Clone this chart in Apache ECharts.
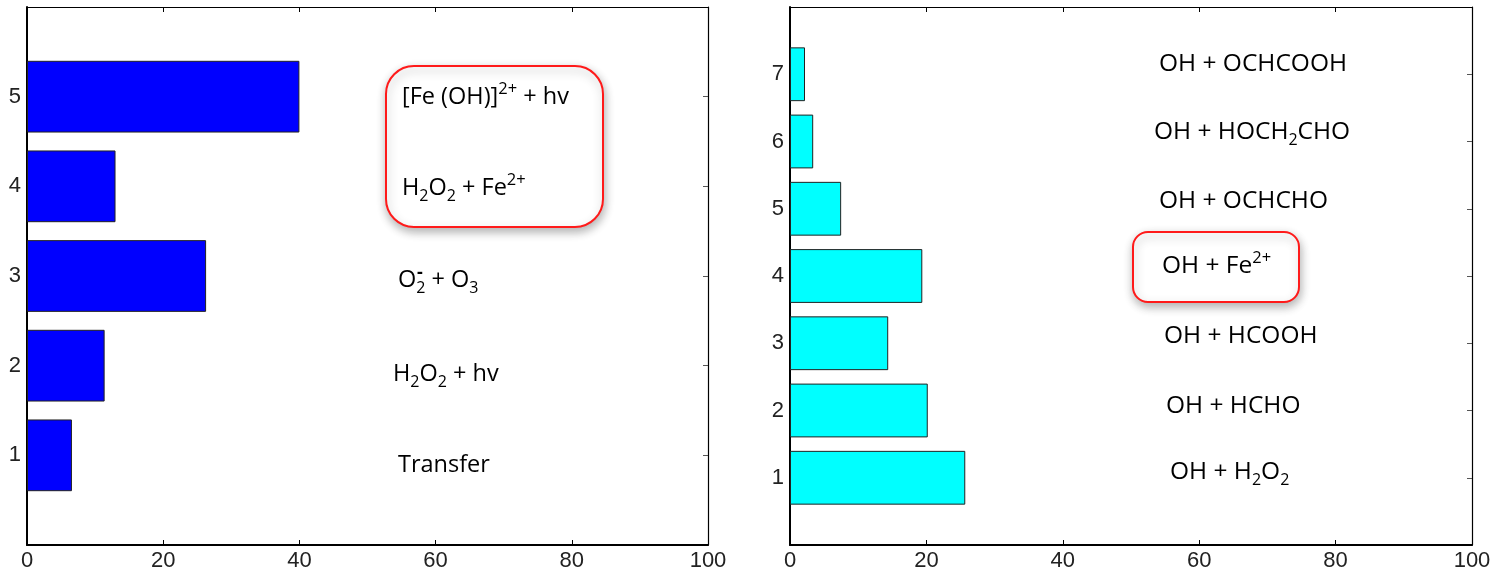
<!DOCTYPE html>
<html>
<head>
<meta charset="utf-8">
<script src="https://cdn.jsdelivr.net/npm/echarts@6/dist/echarts.min.js"></script>
<style>
  html, body { margin: 0; padding: 0; background: #fff; }
  #chart { width: 1502px; height: 575px; }
</style>
</head>
<body>
<div id="chart"></div>
<script>
// left panel: source contributions
const leftCategories = ['1', '2', '3', '4', '5'];
const leftValues = [6.6, 11.4, 26.3, 13.0, 40.0];
const leftLabels = [
  '{n|Transfer}',
  '{n|H}{sb|2}{n|O}{sb|2}{n| + hv}',
  '{n|O}{sb|2}{n| + O}{sb|3}',
  '{n|H}{sb|2}{n|O}{sb|2}{n| + Fe}{sp|2+}',
  '{n|[Fe (OH)]}{sp|2+}{n| + hv}'
];

// right panel: sink contributions
const rightCategories = ['1', '2', '3', '4', '5', '6', '7'];
const rightValues = [25.7, 20.2, 14.4, 19.4, 7.5, 3.4, 2.2];
const rightLabels = [
  '{n|OH + H}{sb|2}{n|O}{sb|2}',
  '{n|OH + HCHO}',
  '{n|OH + HCOOH}',
  '{n|OH + Fe}{sp|2+}',
  '{n|OH + OCHCHO}',
  '{n|OH + HOCH}{sb|2}{n|CHO}',
  '{n|OH + OCHCOOH}'
];

const xTicks = [0, 20, 40, 60, 80, 100];

// pad one empty slot at each end so the axis runs 0..n+1
const padCats = cats => [''].concat(cats, ['']);
const padVals = vals => [null].concat(vals, [null]);

const labelFont = 'Liberation Sans, Arial, sans-serif';
const noteFont = '"Open Sans", "Noto Sans", sans-serif';

function xAxes(gridIndex) {
  return [
    {
      type: 'value', gridIndex, position: 'bottom',
      min: xTicks[0], max: xTicks[xTicks.length - 1], interval: xTicks[1] - xTicks[0],
      axisLine: { show: true, onZero: false, lineStyle: { color: '#000', width: 2 } },
      axisTick: { show: true, inside: true, length: 5, lineStyle: { color: '#000', width: 1 } },
      axisLabel: { color: '#222', fontSize: 22, fontFamily: labelFont, margin: 5 },
      splitLine: { show: false }
    },
    {
      type: 'value', gridIndex, position: 'top',
      min: xTicks[0], max: xTicks[xTicks.length - 1], interval: xTicks[1] - xTicks[0],
      axisLine: { show: true, onZero: false, lineStyle: { color: '#000', width: 1.2 } },
      axisTick: { show: true, inside: true, length: 5, lineStyle: { color: '#000', width: 1 } },
      axisLabel: { show: false },
      splitLine: { show: false }
    }
  ];
}

function yAxes(gridIndex, cats) {
  const data = padCats(cats);
  const tickInt = (i, v) => v !== '';
  return [
    {
      type: 'category', gridIndex, position: 'left', data, boundaryGap: false,
      axisLine: { show: true, onZero: false, lineStyle: { color: '#000', width: 2 } },
      axisTick: { show: true, inside: true, length: 5, interval: tickInt, lineStyle: { color: '#000', width: 1 } },
      axisLabel: { color: '#222', fontSize: 22, fontFamily: labelFont, margin: 6, interval: 0 },
      splitLine: { show: false }
    },
    {
      type: 'category', gridIndex, position: 'right', data, boundaryGap: false,
      axisLine: { show: true, onZero: false, lineStyle: { color: '#000', width: 1.2 } },
      axisTick: { show: true, inside: true, length: 5, interval: tickInt, lineStyle: { color: '#555', width: 1 } },
      axisLabel: { show: false },
      splitLine: { show: false }
    }
  ];
}

const rich = size => ({
  n: { fontFamily: noteFont, fontSize: size, lineHeight: 32, fill: '#000', color: '#000' },
  sb: { fontFamily: noteFont, fontSize: 16, lineHeight: 12, verticalAlign: 'bottom', fill: '#000', color: '#000' },
  sp: { fontFamily: noteFont, fontSize: 16.5, lineHeight: 28, verticalAlign: 'top', fill: '#000', color: '#000' }
});

function note(text, x, y, size) {
  return {
    type: 'text', x, y, z: 10,
    style: {
      text, rich: rich(size), fill: '#000',
      fontFamily: noteFont, fontSize: size,
      align: 'left', verticalAlign: 'middle'
    }
  };
}

function box(x, y, w, h, r) {
  return {
    type: 'rect', z: 5,
    shape: { x, y, width: w, height: h, r },
    style: {
      fill: '#fff', stroke: '#ff1a1a', lineWidth: 2,
      shadowBlur: 10, shadowColor: 'rgba(0,0,0,0.3)', shadowOffsetX: 1, shadowOffsetY: 4
    }
  };
}

const leftNotePos = [[398, 465], [393, 374], [398, 280], [402, 188], [402, 97]];
const rightNotePos = [[1170, 472], [1166, 406], [1164, 336], [1162, 266], [1159, 201], [1154, 132], [1159, 64]];

const graphics = [
  box(386, 66, 217, 161, 28),
  box(1133, 232, 166, 70, 15)
];
leftLabels.forEach((t, i) => graphics.push(note(t, leftNotePos[i][0], leftNotePos[i][1], 23.5)));
rightLabels.forEach((t, i) => graphics.push(note(t, rightNotePos[i][0], rightNotePos[i][1], 24.5)));
// superscript minus stacked over the subscript of O2
graphics.push({
  type: 'text', x: 417, y: 273, z: 10,
  style: { text: '-', fill: '#000', fontFamily: noteFont, fontSize: 18, fontWeight: 'bold', verticalAlign: 'middle' }
});

const chart = echarts.init(document.getElementById('chart'));
chart.setOption({
  animation: false,
  backgroundColor: '#fff',
  grid: [
    { left: 27, top: 7, width: 681, height: 538 },
    { left: 790, top: 7, width: 682, height: 538 }
  ],
  xAxis: xAxes(0).concat(xAxes(1)),
  yAxis: yAxes(0, leftCategories).concat(yAxes(1, rightCategories)),
  series: [
    {
      type: 'bar', xAxisIndex: 0, yAxisIndex: 0,
      data: padVals(leftValues), barWidth: '80%',
      itemStyle: { color: '#0000ff', borderColor: '#222', borderWidth: 1 }
    },
    {
      type: 'bar', xAxisIndex: 2, yAxisIndex: 2,
      data: padVals(rightValues), barWidth: '80%',
      itemStyle: { color: '#00ffff', borderColor: '#222', borderWidth: 1 }
    }
  ],
  graphic: graphics
});
window.addEventListener('resize', () => chart.resize());
</script>
</body>
</html>
